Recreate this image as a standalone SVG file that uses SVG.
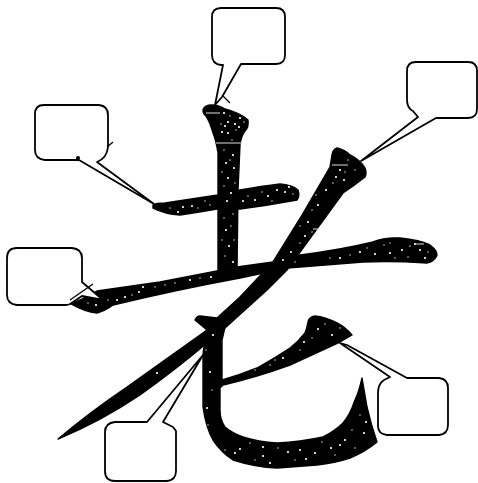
<svg xmlns="http://www.w3.org/2000/svg" width="478" height="483" viewBox="0 0 478 483">
<style>
.stroke{fill:#000;stroke:#000;stroke-width:1.4;stroke-linejoin:round}
.callout{fill:#fff;stroke:#000;stroke-width:1.8;stroke-linejoin:round}
.tick{fill:none;stroke:#000;stroke-width:1.3}
.dots{fill:none;stroke:#fff;stroke-width:2.2;stroke-linecap:round}
.fine{fill:none;stroke:#fff;stroke-width:1.3;stroke-linecap:round}
.scratch{fill:none;stroke:#ddd;stroke-width:1.2}
</style>
<rect width="478" height="483" fill="#fff"/>
<g id="character">
<path id="stroke-vertical" class="stroke" d="M203,110 Q204,105 212,105 Q218,105 225,109 Q240,113 248,120 Q249,127 245,131 Q241,136 240,145 L238,190 L237,270 L218,275 L218,195 L218,153 Q216,140 213,133 Q210,122 206,116 Q203,114 203,110 Z"/>
<path id="stroke-short-horizontal" class="stroke" d="M153,205 Q156,203 165,203 L218,195 L240,190 Q262,186 280,184 Q292,185 298,190 Q300,196 297,200 Q270,205 240,209 L217,209 Q200,212 180,215 Q165,214 153,208 Z"/>
<path id="stroke-long-horizontal" class="stroke" d="M71,304 L80,300 L97,291 L160,282 L217,271 L237,267 L273,262 L300,255 Q340,250 373,242 Q385,237 400,238 Q420,240 430,245 Q437,250 437,255 Q435,261 427,263 Q395,261 363,262 L300,267 L287,268 L240,278 Q175,290 113,305 Q105,311 97,313 Q85,312 71,304 Z"/>
<path id="stroke-diagonal" class="stroke" d="M332,155 Q333,149 337,148 Q345,150 350,155 Q360,160 365,168 Q367,173 365,177 Q355,185 343,193 L287,270 L267,290 L225,328 L207,343 Q175,370 140,395 Q100,422 58,439 Q90,412 127,387 L207,330 L195,320 Q197,316 200,316 L217,318 L240,297 L273,262 Q303,215 330,167 Z"/>
<path id="stroke-hook" class="stroke" d="M222,330 L208,338 Q203,345 203,357 L203,407 Q206,428 213,440 Q221,452 233,460 Q255,467 277,468 L317,465 Q335,463 350,458 Q365,452 377,442 Q371,425 367,407 L362,378 Q359,392 355,400 Q350,415 343,423 Q335,431 323,437 Q300,442 277,443 Q258,442 243,437 Q232,433 225,427 Q220,420 220,410 L220,388 L223,385 Q257,377 290,365 L340,342 L352,335 Q345,327 337,323 Q325,317 315,316 Q309,317 308,322 Q307,328 305,333 Q298,342 290,348 Q275,358 257,368 Q240,375 222,380 L222,340 L225,327 Z"/>
</g>
<g id="speckles">
<path class="dots" d="M224,113h0M228,122h0M235,124h0M240,118h0M222,132h0M228,133h0M239,127h0M225,126h0M233,155h0M226,163h0M234,168h0M228,178h0M231,193h0M227,201h0M243,201h0M255,200h0M268,196h0M277,190h0M285,192h0M289,187h0M192,206h0M183,207h0M178,212h0M226,230h0M229,246h0M233,262h0M139,292h0M125,297h0M143,287h0M190,280h0M211,277h0M117,300h0M96,305h0M344,180h0M340,170h0M336,177h0M326,190h0M318,205h0M308,222h0M305,236h0M291,252h0M340,258h0M360,252h0M375,254h0M390,253h0M402,250h0M420,250h0M425,258h0M415,244h0M283,260h0M213,335h0M210,372h0M207,408h0M157,373h0M248,356h0M283,358h0M304,342h0M318,329h0M332,335h0M240,449h0M263,447h0M263,456h0M288,452h0M300,450h0M306,459h0M331,448h0M340,445h0M345,440h0M364,433h0M366,422h0M315,453h0M270,463h0M235,453h0"/>
<path class="fine" d="M230,116h0M236,130h0M221,124h0M244,122h0M232,140h0M224,150h0M230,160h0M222,172h0M235,183h0M224,186h0M233,214h0M224,218h0M231,226h0M222,240h0M234,240h0M225,256h0M248,196h0M262,192h0M272,201h0M293,194h0M205,201h0M170,208h0M198,208h0M210,205h0M132,295h0M155,287h0M165,285h0M175,283h0M200,278h0M108,300h0M88,303h0M348,160h0M355,170h0M345,172h0M333,183h0M322,175h0M316,195h0M312,210h0M300,226h0M300,243h0M312,232h0M295,262h0M330,258h0M350,255h0M367,248h0M384,245h0M395,258h0M408,257h0M410,246h0M428,252h0M390,243h0M206,350h0M212,390h0M208,425h0M225,450h0M250,443h0M255,460h0M278,448h0M295,460h0M322,442h0M335,455h0M355,448h0M352,430h0M360,415h0M270,365h0M300,350h0M312,338h0M325,324h0M340,328h0M255,370h0M275,360h0"/>
<path class="scratch" d="M206,113H220M216,143H242M332,165H348M313,229H320M416,244H424"/>
</g>
<g id="callout-top"><path class="callout" d="M223,65 H221 Q212,64 212,55 V17 Q212,8 221,8 H276 Q285,8 285,17 V55 Q285,64 276,64 H241 L222,97 L215,105 Z"/></g>
<g id="callout-left"><path class="callout" d="M79,160 H45 Q35,159 35,150 V114 Q35,105 44,105 H99 Q108,106 108,115 V147 Q107,158 97,162 L154,204 Z"/><circle cx="78" cy="158" r="2"/></g>
<g id="callout-right"><path class="callout" d="M418,117 L413,111 Q407,108 407,100 V71 Q407,62 416,62 H468 Q477,62 477,71 V109 Q477,118 468,118 H436 L361,161 Z"/></g>
<g id="callout-mid-left"><path class="callout" d="M70,304 Q68,305 66,305 H17 Q7,304 7,295 V258 Q7,248 17,248 H72 Q82,249 82,258 V282 L103,300 L82,296 Z"/></g>
<g id="callout-bottom"><path class="callout" d="M147,422 H115 Q105,423 105,432 V471 Q105,481 115,481 H167 Q176,480 176,471 V431 L173,427 L163,422 L203,355 Z"/></g>
<g id="callout-bottom-right"><path class="callout" d="M390,377 L384,380 Q378,384 378,393 V426 Q378,434 387,435 H439 Q448,434 448,425 V388 Q448,379 439,378 H407 L347,345 L340,343 Z"/></g>
<g id="connectors">
<path class="tick" d="M222,95L230,103M107,147L113,142M70,300L93,284"/>
</g>
</svg>
